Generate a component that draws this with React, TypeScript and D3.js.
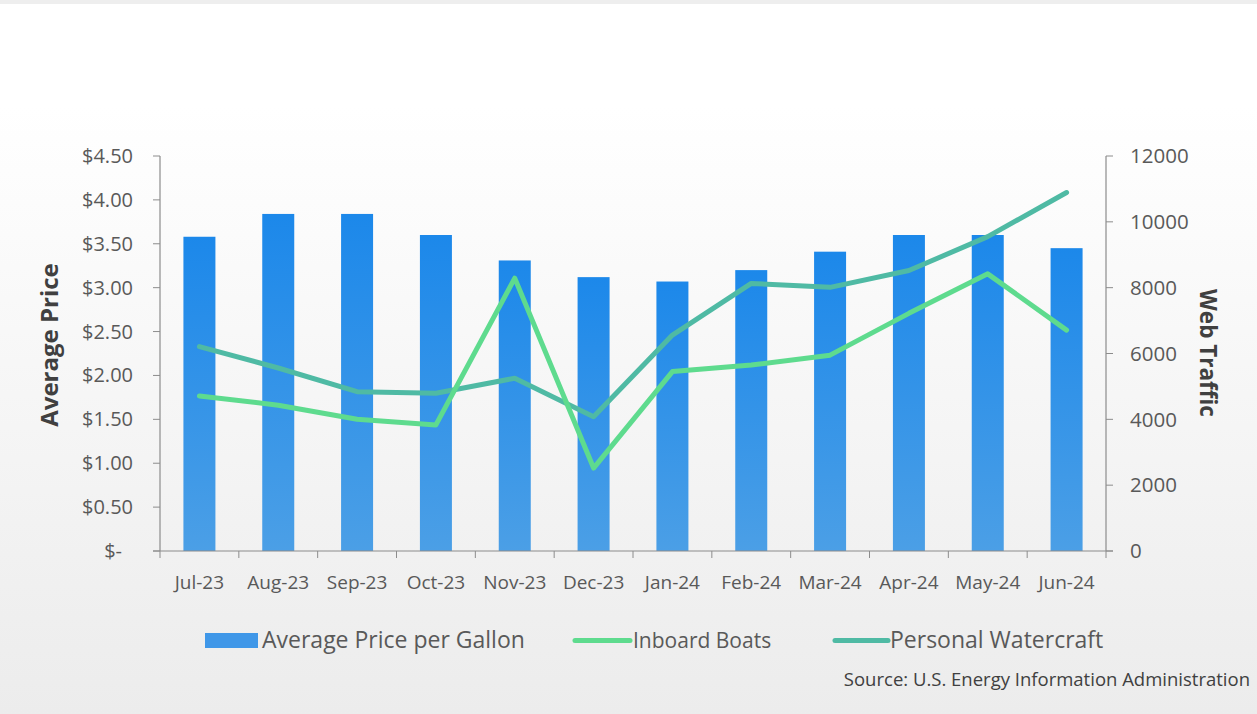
import React from "react";
import * as d3 from "d3";

const months = ["Jul-23","Aug-23","Sep-23","Oct-23","Nov-23","Dec-23","Jan-24","Feb-24","Mar-24","Apr-24","May-24","Jun-24"];
const avgPrice = [3.58, 3.84, 3.84, 3.60, 3.31, 3.12, 3.07, 3.20, 3.41, 3.60, 3.60, 3.45];
const inboardBoats = [4710, 4430, 4000, 3830, 8290, 2520, 5450, 5650, 5950, 7220, 8420, 6710];
const personalWatercraft = [6210, 5560, 4840, 4790, 5250, 4080, 6560, 8130, 8010, 8520, 9550, 10890];
const priceTicks = [0, 0.5, 1, 1.5, 2, 2.5, 3, 3.5, 4, 4.5];
const trafficTicks = [0, 2000, 4000, 6000, 8000, 10000, 12000];

const W = 1257, H = 714;
const L = 160, R = 1106, T = 156, B = 551;
const FONT = "'Open Sans', sans-serif";

export default function App() {
  const xb = d3.scaleBand<string>().domain(months).range([L, R]);
  const yL = d3.scaleLinear().domain([0, 4.5]).range([B, T]);
  const yR = d3.scaleLinear().domain([0, 12000]).range([B, T]);
  const cx = (m: string) => (xb(m) as number) + xb.bandwidth() / 2;
  const line = d3.line<number>().x((_, i) => cx(months[i])).y((v) => yR(v));
  const fmt = (v: number) => (v === 0 ? "$-" : "$" + d3.format(".2f")(v));
  const bw = 32;
  const axisColor = "#8c8c8c";
  const textColor = "#595959";

  return (
    <svg width={W} height={H} style={{ position: "absolute", left: 0, top: 0 }} fontFamily={FONT}>
      <defs>
        <linearGradient id="bg" x1="0" y1="0" x2="0" y2="1">
          <stop offset="0" stopColor="#ffffff" />
          <stop offset="0.15" stopColor="#ffffff" />
          <stop offset="1" stopColor="#ececec" />
        </linearGradient>
        <linearGradient id="bar" x1="0" y1="0" x2="0" y2="1">
          <stop offset="0" stopColor="#1c88ea" />
          <stop offset="1" stopColor="#4b9fe6" />
        </linearGradient>
      </defs>
      <rect x={0} y={0} width={W} height={H} fill="url(#bg)" />
      <rect x={0} y={0} width={W} height={4} fill="#eeeeee" />

      {months.map((m, i) => (
        <rect key={m} x={cx(m) - bw / 2} y={yL(avgPrice[i])} width={bw} height={B - yL(avgPrice[i])} fill="url(#bar)" />
      ))}

      <line x1={L} y1={T} x2={L} y2={B} stroke={axisColor} strokeWidth={1.2} />
      <line x1={R} y1={T} x2={R} y2={B} stroke={axisColor} strokeWidth={1.2} />
      <line x1={L - 7} y1={B} x2={R + 7} y2={B} stroke={axisColor} strokeWidth={1.2} />
      {priceTicks.map((t) => (
        <g key={"l" + t}>
          <line x1={L - 7} x2={L} y1={yL(t)} y2={yL(t)} stroke={axisColor} />
          <text x={t === 0 ? 122 : 133} y={yL(t)} dy="0.35em" textAnchor="end" fontSize={20} fill={textColor}>{fmt(t)}</text>
        </g>
      ))}
      {trafficTicks.map((t) => (
        <g key={"r" + t}>
          <line x1={R} x2={R + 7} y1={yR(t)} y2={yR(t)} stroke={axisColor} />
          <text x={1130} y={yR(t)} dy="0.35em" textAnchor="start" fontSize={20.5} fill={textColor}>{t}</text>
        </g>
      ))}
      {months.map((m, i) => (
        <g key={"x" + m}>
          {i > 0 && <line x1={xb(m)} x2={xb(m)} y1={B} y2={B + 7} stroke={axisColor} />}
          <text x={cx(m)} y={589} textAnchor="middle" fontSize={19} fill={textColor}>{m}</text>
        </g>
      ))}
      <line x1={R} x2={R} y1={B} y2={B + 7} stroke={axisColor} />
      <line x1={L} x2={L} y1={B} y2={B + 7} stroke={axisColor} />

      <path d={line(personalWatercraft) || ""} fill="none" stroke="#4fbaa4" strokeWidth={5} strokeLinejoin="round" strokeLinecap="round" />
      <path d={line(inboardBoats) || ""} fill="none" stroke="#5edb8e" strokeWidth={5} strokeLinejoin="round" strokeLinecap="round" />

      <text transform={`translate(58,${345}) rotate(-90)`} textAnchor="middle" fontSize={24} fontWeight="bold" fill="#404040">Average Price</text>
      <text transform={`translate(1200,${353}) rotate(90)`} textAnchor="middle" fontSize={22.5} fontWeight="bold" fill="#404040">Web Traffic</text>

      <rect x={205} y={633} width={53} height={15} fill="#3f97e8" />
      <text x={262} y={648} fontSize={23} fill={textColor}>Average Price per Gallon</text>
      <line x1={575} x2={630} y1={640.5} y2={640.5} stroke="#5edb8e" strokeWidth={5} strokeLinecap="round" />
      <text x={633} y={648} fontSize={21} fill={textColor}>Inboard Boats</text>
      <line x1={835} x2={888} y1={640.5} y2={640.5} stroke="#4fbaa4" strokeWidth={5} strokeLinecap="round" />
      <text x={890} y={648} fontSize={23} fill={textColor}>Personal Watercraft</text>

      <text x={1250} y={686} textAnchor="end" fontSize={18.5} fill="#404040">Source: U.S. Energy Information Administration</text>
    </svg>
  );
}
